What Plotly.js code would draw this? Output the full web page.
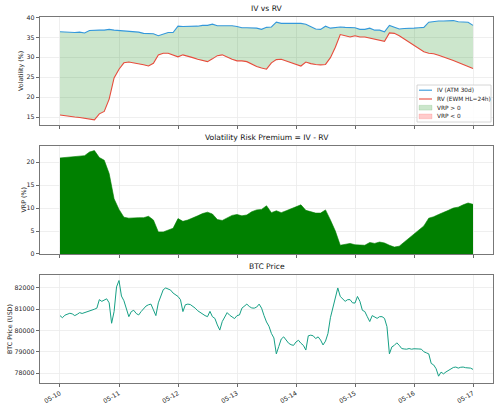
<!DOCTYPE html>
<html>
<head>
<meta charset="utf-8">
<script src="https://cdn.plot.ly/plotly-3.0.1.min.js"></script>
<style>html,body{margin:0;padding:0;background:#fff;}#chart{width:500px;height:409px;}</style>
</head>
<body>
<div id="chart"></div>
<script>
// ---- data ----
const START_UTC = Date.UTC(2025, 4, 10);   // 05-10 00:00
const VOL_STEP_H = 2;                        // IV / RV sampled every 2 h
const PRICE_STEP_H = 1;                      // price sampled every 1 h

// Implied volatility (ATM 30d), %, every 2 h from 05-10 00:00 to 05-17 00:00
const IV = [
  36.4, 36.3, 36.3, 36.2, 36.3, 36.1, 36.7, 36.8, 36.8, 36.8, 37.0, 36.8,
  36.7, 36.6, 36.6, 36.5, 36.3, 36.0, 36.0, 35.9, 35.4, 35.8, 36.2, 36.2,
  37.8, 37.7, 37.7, 37.7, 37.8, 38.0, 38.0, 38.3, 37.9, 37.9, 37.9, 37.9,
  37.7, 37.4, 37.4, 37.4, 37.3, 37.0, 37.5, 37.6, 38.8, 38.5, 38.5, 38.5,
  38.5, 38.5, 38.3, 37.6, 37.1, 37.0, 37.8, 37.3, 37.5, 37.6, 37.5, 37.4,
  37.4, 37.0, 37.0, 37.3, 36.8, 36.8, 36.4, 38.0, 37.5, 37.1, 37.2, 37.2,
  37.3, 37.4, 37.5, 38.8, 39.0, 39.1, 39.1, 39.2, 39.2, 38.9, 38.9, 38.8,
  38.0
];
// Realized volatility (EWM half-life 24 h), %, same sampling
const RV = [
  15.5, 15.3, 15.2, 15.0, 14.9, 14.7, 14.5, 14.3, 15.8, 16.4, 19.5, 24.8,
  27.0, 28.6, 28.8, 28.6, 28.4, 28.1, 27.8, 28.5, 30.6, 31.0, 31.0, 30.6,
  30.1, 30.6, 30.3, 29.9, 29.5, 29.2, 28.9, 29.6, 30.4, 30.6, 30.0, 29.5,
  29.1, 29.1, 28.9, 28.2, 27.7, 27.3, 27.0, 28.6, 29.4, 29.5, 29.1, 28.7,
  28.3, 27.8, 28.8, 28.4, 28.2, 28.1, 28.2, 29.9, 32.5, 35.7, 35.4, 35.1,
  35.4, 35.1, 35.1, 34.8, 34.5, 34.2, 34.0, 36.1, 36.0, 35.4, 34.6, 33.8,
  33.0, 32.2, 31.4, 31.0, 30.9, 30.5, 30.1, 29.7, 29.2, 28.7, 28.2, 27.7,
  27.2
];
// BTC price (USD), hourly from 05-10 00:00 to 05-17 00:00
const PRICE = [
  80700, 80600, 80720, 80780, 80810, 80780, 80700, 80760, 80840, 80800, 80840, 80870,
  80890, 80930, 81000, 81050, 81450, 81370, 81420, 81490, 81300, 80340, 80890, 82050,
  82350, 81620, 81400, 81000, 80650, 80890, 80950, 80800, 80730, 80890, 81050, 81150,
  81210, 81240, 80970, 80700, 81300, 81600, 81920, 82000, 81960, 81900, 81760, 81680,
  81600, 81450, 80890, 81210, 81240, 81220, 81150, 81050, 80930, 80850, 80760, 80700,
  80650, 80900, 80650, 80570, 80260, 80020, 80420, 80650, 80840, 80720, 80650, 80560,
  80700, 80730, 81050, 81160, 81240, 81130, 81060, 81050, 81100, 81240, 81050, 80700,
  80400, 80200, 79860, 79650, 78900, 79250, 79600, 79700, 79540, 79400, 79330, 79300,
  79460, 79540, 79400, 79300, 79080, 79750, 79780, 79750, 79620, 79700, 79550, 79320,
  79500, 79860, 80600, 81100, 81500, 82000, 81600, 81500, 81370, 81450, 81450, 81300,
  81290, 81600, 81370, 80950, 80890, 80650, 80420, 80700, 80650, 80570, 80650, 80650,
  80570, 80180, 78900, 79230, 79300, 79420, 79300, 79150, 79130, 79120, 79150, 79120,
  79140, 79150, 79130, 79120, 79000, 78950, 78900, 78450, 78380, 78200, 77850, 78040,
  77960, 78050, 78120, 78220, 78260, 78280, 78230, 78270, 78280, 78250, 78250, 78230,
  78170
];
const TITLES = ['IV vs RV', 'Volatility Risk Premium = IV - RV', 'BTC Price'];
const Y_TITLES = ['Volatility (%)', 'VRP (%)', 'BTC Price (USD)'];
const NAMES = ['IV (ATM 30d)', 'RV (EWM HL=24h)', 'VRP > 0', 'VRP < 0'];

// ---- derived ----
function stamp(h){ return new Date(START_UTC + h*3600e3).toISOString().slice(0,16).replace('T',' '); }
const tVol = IV.map((_, i) => stamp(i*VOL_STEP_H));
const tPx = PRICE.map((_, i) => stamp(i*PRICE_STEP_H));
const VRP = IV.map((v, i) => +(v - RV[i]).toFixed(2));
const posLow = RV.slice();
const posHigh = IV.map((v, i) => v >= RV[i] ? v : RV[i]);
const negLow = RV.map((r, i) => r > IV[i] ? IV[i] : r);
const negHigh = RV.slice();

const C_IV = '#3498db', C_RV = '#e74c3c', C_PX = '#16a085';
const C_POS = 'rgba(0,128,0,0.2)', C_NEG = 'rgba(255,0,0,0.2)';
const FONT = 'DejaVu Sans, Liberation Sans, sans-serif';

const traces = [
  {x: tVol, y: posLow, xaxis:'x', yaxis:'y', mode:'lines', line:{width:0, color:'rgba(0,0,0,0)'}, hoverinfo:'skip'},
  {x: tVol, y: posHigh, xaxis:'x', yaxis:'y', mode:'lines', fill:'tonexty', fillcolor:C_POS, line:{width:0, color:C_POS}, name: NAMES[2]},
  {x: tVol, y: negLow, xaxis:'x', yaxis:'y', mode:'lines', line:{width:0, color:'rgba(0,0,0,0)'}, hoverinfo:'skip'},
  {x: tVol, y: negHigh, xaxis:'x', yaxis:'y', mode:'lines', fill:'tonexty', fillcolor:C_NEG, line:{width:0, color:C_NEG}, name: NAMES[3]},
  {x: tVol, y: IV, xaxis:'x', yaxis:'y', mode:'lines', line:{color:C_IV, width:1.1}, name: NAMES[0]},
  {x: tVol, y: RV, xaxis:'x', yaxis:'y', mode:'lines', line:{color:C_RV, width:1.1}, name: NAMES[1]},
  {x: tVol, y: VRP, xaxis:'x2', yaxis:'y2', mode:'lines', fill:'tozeroy', fillcolor:'#008000', line:{color:'#008000', width:0.6}},
  {x: tPx, y: PRICE, xaxis:'x3', yaxis:'y3', mode:'lines', line:{color:C_PX, width:1}}
];

// page-pixel -> paper helpers (plot area: x 40..493, y 17..383)
const PL = 40, PR = 493, PT = 17, PB = 383;
const px = v => (v - PL) / (PR - PL);
const py = v => (PB - v) / (PB - PT);

const xBase = {
  type:'date', range:['2025-05-09 15:52', '2025-05-17 08:08'],
  tick0:'2025-05-10', dtick:86400000, tickformat:'%m-%d',
  ticks:'outside', ticklen:3.5, tickwidth:0.8, tickcolor:'#444',
  showgrid:true, gridcolor:'#ebebeb', gridwidth:0.8,
  showline:true, linecolor:'#555', linewidth:0.8, mirror:true, zeroline:false,
  automargin:false
};
const yBase = {
  ticks:'outside', ticklen:3.5, tickwidth:0.8, tickcolor:'#444',
  showgrid:true, gridcolor:'#ebebeb', gridwidth:0.8,
  showline:true, linecolor:'#555', linewidth:0.8, mirror:true, zeroline:false,
  automargin:false, tickfont:{size:6.3, color:'#262626'}
};
const D1 = [0.7049, 1], D2 = [0.3525, 0.6475], D3 = [0, 0.2951];

// subplot titles
const annotations = [D1, D2, D3].map((d, i) => ({
  text: TITLES[i], xref:'paper', yref:'paper', x:0.5, y:d[1], xanchor:'center', yanchor:'bottom',
  yshift:2, showarrow:false, font:{size:7.6, color:'#111'}
}));
// y-axis titles
const yTitleX = [21, 22.5, 10];
[D1, D2, D3].forEach((d, i) => annotations.push({
  text: Y_TITLES[i], xref:'paper', yref:'paper', x:px(yTitleX[i]), y:(d[0]+d[1])/2,
  xanchor:'center', yanchor:'middle', textangle:-90, showarrow:false, font:{size:6.3, color:'#262626'}
}));

// legend (drawn as shapes + text)
const LG = {x0:417, x1:491, y0:85, y1:122, sx0:419, sx1:432, tx:435, rows:[90.2, 99, 107.7, 116.4]};
const shapes = [
  {type:'rect', xref:'paper', yref:'paper', x0:px(LG.x0), x1:px(LG.x1), y0:py(LG.y1), y1:py(LG.y0),
   line:{color:'#cccccc', width:0.8}, fillcolor:'rgba(255,255,255,0.85)', layer:'above'}
];
const legendStyle = [
  {kind:'line', color:C_IV}, {kind:'line', color:C_RV},
  {kind:'patch', color:C_POS}, {kind:'patch', color:C_NEG}
];
legendStyle.forEach((s, i) => {
  const yc = LG.rows[i];
  if (s.kind === 'line') {
    shapes.push({type:'line', xref:'paper', yref:'paper', x0:px(LG.sx0), x1:px(LG.sx1), y0:py(yc), y1:py(yc),
      line:{color:s.color, width:1.1}, layer:'above'});
  } else {
    shapes.push({type:'rect', xref:'paper', yref:'paper', x0:px(LG.sx0), x1:px(LG.sx1), y0:py(yc+2.4), y1:py(yc-2.4),
      line:{color:s.color, width:0.6}, fillcolor:s.color, layer:'above'});
  }
  annotations.push({text:NAMES[i], xref:'paper', yref:'paper', x:px(LG.tx), y:py(yc), xanchor:'left', yanchor:'middle',
    showarrow:false, font:{size:5.8, color:'#262626'}});
});

const layout = {
  width:500, height:409,
  margin:{l:PL, r:500-PR, t:PT, b:409-PB},
  paper_bgcolor:'#fff', plot_bgcolor:'#fff',
  font:{family:FONT, size:6.3, color:'#262626'},
  showlegend:false,
  xaxis: Object.assign({}, xBase, {anchor:'y', matches:'x3', showticklabels:false}),
  xaxis2: Object.assign({}, xBase, {anchor:'y2', matches:'x3', showticklabels:false}),
  xaxis3: Object.assign({}, xBase, {anchor:'y3', tickangle:-30, tickfont:{size:6.3, color:'#262626'}}),
  yaxis: Object.assign({}, yBase, {domain:D1, range:[13.0, 40.1], tick0:0, dtick:5}),
  yaxis2: Object.assign({}, yBase, {domain:D2, range:[0, 23.5], tick0:0, dtick:5}),
  yaxis3: Object.assign({}, yBase, {domain:D3, range:[77530, 82610], tick0:0, dtick:1000, tickformat:'d'}),
  annotations: annotations,
  shapes: shapes
};

Plotly.newPlot('chart', traces, layout, {staticPlot:true, displayModeBar:false});
</script>
</body>
</html>
